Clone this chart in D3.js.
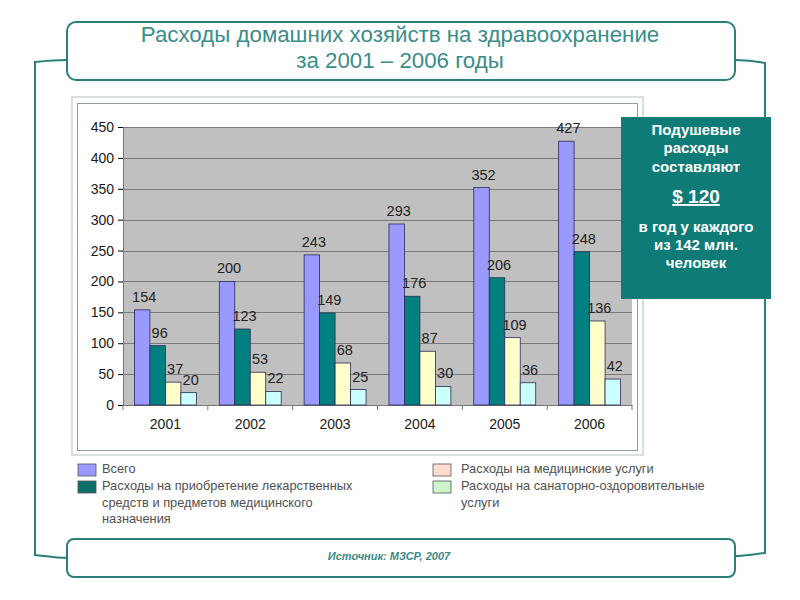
<!DOCTYPE html>
<html>
<head>
<meta charset="utf-8">
<script src="https://cdn.jsdelivr.net/npm/d3@7"></script>
<style>
  body { margin: 0; background: #fff; }
  svg { display: block; font-family: "Liberation Sans", Arial, sans-serif; }
</style>
</head>
<body>
<div id="zone"></div>
<script>
// données
var annees = ["2001", "2002", "2003", "2004", "2005", "2006"];
var vsego = [154, 200, 243, 293, 352, 427];
var lekarstva = [96, 123, 149, 176, 206, 248];
var medUslugi = [37, 53, 68, 87, 109, 136];
var sanatorii = [20, 22, 25, 30, 36, 42];
var yTicks = [0, 50, 100, 150, 200, 250, 300, 350, 400, 450];

var series = [
  {nom: "Всего", valeurs: vsego, couleur: "#9999ff", legende: "#9999ff"},
  {nom: "Расходы на приобретение лекарственных средств и предметов медицинского назначения", valeurs: lekarstva, couleur: "#008080", legende: "#0b6f68"},
  {nom: "Расходы на медицинские услуги", valeurs: medUslugi, couleur: "#ffffcc", legende: "#fddcd0"},
  {nom: "Расходы на санаторно-оздоровительные услуги", valeurs: sanatorii, couleur: "#ccffff", legende: "#cdf5c8"}
];

var largeur = 800, hauteur = 600;
var vert = "#2b7f7b";

var svg = d3.select("#zone").append("svg")
    .attr("width", largeur)
    .attr("height", hauteur);

// cadre décoratif
svg.append("path")
    .attr("d", "M67,60 C55,60 45,61 35,62 L35,555 C45,556 55,558 67,558")
    .attr("fill", "none").attr("stroke", vert).attr("stroke-width", 2);
svg.append("path")
    .attr("d", "M735,60 C745,60 755,61 765,63 L765,553 C755,554 745,556 735,556")
    .attr("fill", "none").attr("stroke", vert).attr("stroke-width", 2);

svg.append("rect")
    .attr("x", 67).attr("y", 22).attr("width", 668).attr("height", 58).attr("rx", 9)
    .attr("fill", "#fff").attr("stroke", vert).attr("stroke-width", 2);
svg.append("text")
    .attr("x", 400).attr("y", 42).attr("text-anchor", "middle")
    .attr("font-size", "22.3px").attr("fill", "#3a8d89")
    .text("Расходы домашних хозяйств на здравоохранение");
svg.append("text")
    .attr("x", 400).attr("y", 68).attr("text-anchor", "middle")
    .attr("font-size", "22.3px").attr("fill", "#3a8d89")
    .text("за 2001 – 2006 годы");

svg.append("rect")
    .attr("x", 67).attr("y", 539).attr("width", 668).attr("height", 38).attr("rx", 7)
    .attr("fill", "#fff").attr("stroke", vert).attr("stroke-width", 2);
svg.append("text")
    .attr("x", 389).attr("y", 560).attr("text-anchor", "middle")
    .attr("font-size", "11px").attr("font-style", "italic").attr("font-weight", "bold")
    .attr("fill", "#3a8a86")
    .text("Источник: МЗСР, 2007");

// zone du graphique
svg.append("rect")
    .attr("x", 72).attr("y", 97).attr("width", 571).attr("height", 358)
    .attr("fill", "#fff").attr("stroke", "#c9d6d5").attr("stroke-width", 1.5);
svg.append("rect")
    .attr("x", 77.5).attr("y", 103.5).attr("width", 560).attr("height", 347)
    .attr("fill", "#fff").attr("stroke", "#9a9a9a").attr("stroke-width", 1);

var x = d3.scaleBand()
    .domain(annees)
    .range([123, 632]);
var x1 = d3.scaleBand()
    .domain(d3.range(series.length))
    .range([0, x.bandwidth()])
    .paddingOuter(0.74);
var y = d3.scaleLinear()
    .domain([0, 450])
    .range([405, 127]);

svg.append("rect")
    .attr("x", 123).attr("y", y(450))
    .attr("width", 632 - 123).attr("height", y(0) - y(450))
    .attr("fill", "#c0c0c0");

// lignes de grille
svg.append("g")
    .selectAll("line")
    .data(yTicks.slice(1))
    .enter()
    .append("line")
        .attr("x1", 123).attr("x2", 632)
        .attr("y1", function(d) { return Math.round(y(d)) + 0.5; })
        .attr("y2", function(d) { return Math.round(y(d)) + 0.5; })
        .attr("stroke", "#7a7a7a").attr("stroke-width", 1);

// axes
var yAxis = svg.append("g")
    .attr("transform", "translate(123,0)")
    .call(d3.axisLeft(y).tickValues(yTicks).tickSize(5).tickPadding(4));
yAxis.selectAll("text").attr("font-size", "14px").attr("fill", "#1a1a1a")
    .attr("font-family", "Liberation Sans, Arial, sans-serif");

var xAxis = svg.append("g")
    .attr("transform", "translate(0,405)")
    .call(d3.axisBottom(x).tickSize(0).tickPadding(14));
xAxis.selectAll("text").attr("font-size", "14px").attr("fill", "#1a1a1a")
    .attr("font-family", "Liberation Sans, Arial, sans-serif");
xAxis.selectAll(".sep")
    .data(annees.concat(["fin"]))
    .enter()
    .append("line")
        .attr("class", "sep")
        .attr("x1", function(d, i) { return 123 + i * x.step(); })
        .attr("x2", function(d, i) { return 123 + i * x.step(); })
        .attr("y1", 0).attr("y2", 5)
        .attr("stroke", "#777");
svg.selectAll(".domain").attr("stroke", "#777");

// barres
var groupes = svg.append("g")
    .selectAll("g")
    .data(series)
    .enter()
    .append("g");

groupes.selectAll("rect")
    .data(function(s, i) { return s.valeurs.map(function(v, j) { return {v: v, an: annees[j], s: i, c: s.couleur}; }); })
    .enter()
    .append("rect")
        .attr("x", function(d) { return x(d.an) + x1(d.s); })
        .attr("y", function(d) { return y(d.v); })
        .attr("width", x1.bandwidth())
        .attr("height", function(d) { return y(0) - y(d.v); })
        .attr("fill", function(d) { return d.c; })
        .attr("stroke", "#2a2a55").attr("stroke-width", 0.8);

groupes.selectAll("text")
    .data(function(s, i) { return s.valeurs.map(function(v, j) { return {v: v, an: annees[j], s: i}; }); })
    .enter()
    .append("text")
        .attr("x", function(d) { return x(d.an) + x1(d.s) + x1.bandwidth() / 2 + 2; })
        .attr("y", function(d) { return y(d.v) - 8; })
        .attr("text-anchor", "middle")
        .attr("font-size", "14.5px")
        .attr("fill", "#222")
        .text(function(d) { return d.v; });

// encadré
svg.append("rect")
    .attr("x", 621).attr("y", 117).attr("width", 150).attr("height", 182)
    .attr("fill", "#0f7b77");
var encadre = [
  {t: "Подушевые", y: 135, taille: 15},
  {t: "расходы", y: 153, taille: 15},
  {t: "составляют", y: 172, taille: 15},
  {t: "$ 120", y: 203, taille: 19, souligne: true},
  {t: "в год у каждого", y: 232, taille: 15},
  {t: "из 142 млн.", y: 250, taille: 15},
  {t: "человек", y: 268, taille: 15}
];
svg.append("g")
    .selectAll("text")
    .data(encadre)
    .enter()
    .append("text")
        .attr("x", 696)
        .attr("y", function(d) { return d.y; })
        .attr("text-anchor", "middle")
        .attr("font-size", function(d) { return d.taille + "px"; })
        .attr("font-weight", "bold")
        .attr("fill", "#fff")
        .attr("text-decoration", function(d) { return d.souligne ? "underline" : null; })
        .text(function(d) { return d.t; });

// légende
var legende = [
  {s: 0, x: 78, y: 464, lignes: ["Всего"]},
  {s: 1, x: 78, y: 481, lignes: ["Расходы на приобретение лекарственных", "средств и предметов медицинского", "назначения"]},
  {s: 2, x: 433, y: 464, lignes: ["Расходы на медицинские услуги"]},
  {s: 3, x: 433, y: 481, lignes: ["Расходы на санаторно-оздоровительные", "услуги"]}
];
var leg = svg.append("g")
    .selectAll("g")
    .data(legende)
    .enter()
    .append("g");
leg.append("rect")
    .attr("x", function(d) { return d.x; })
    .attr("y", function(d) { return d.y; })
    .attr("width", 18).attr("height", 12)
    .attr("fill", function(d) { return series[d.s].legende; })
    .attr("stroke", "#555").attr("stroke-width", 0.8);
leg.each(function(d) {
  var t = d3.select(this).append("text")
      .attr("font-size", "12.8px")
      .attr("fill", "#505050");
  d.lignes.forEach(function(l, i) {
    t.append("tspan")
        .attr("x", d.x + (d.s < 2 ? 24 : 28))
        .attr("y", d.y + 9 + i * 16.5)
        .text(l);
  });
});
</script>
</body>
</html>
